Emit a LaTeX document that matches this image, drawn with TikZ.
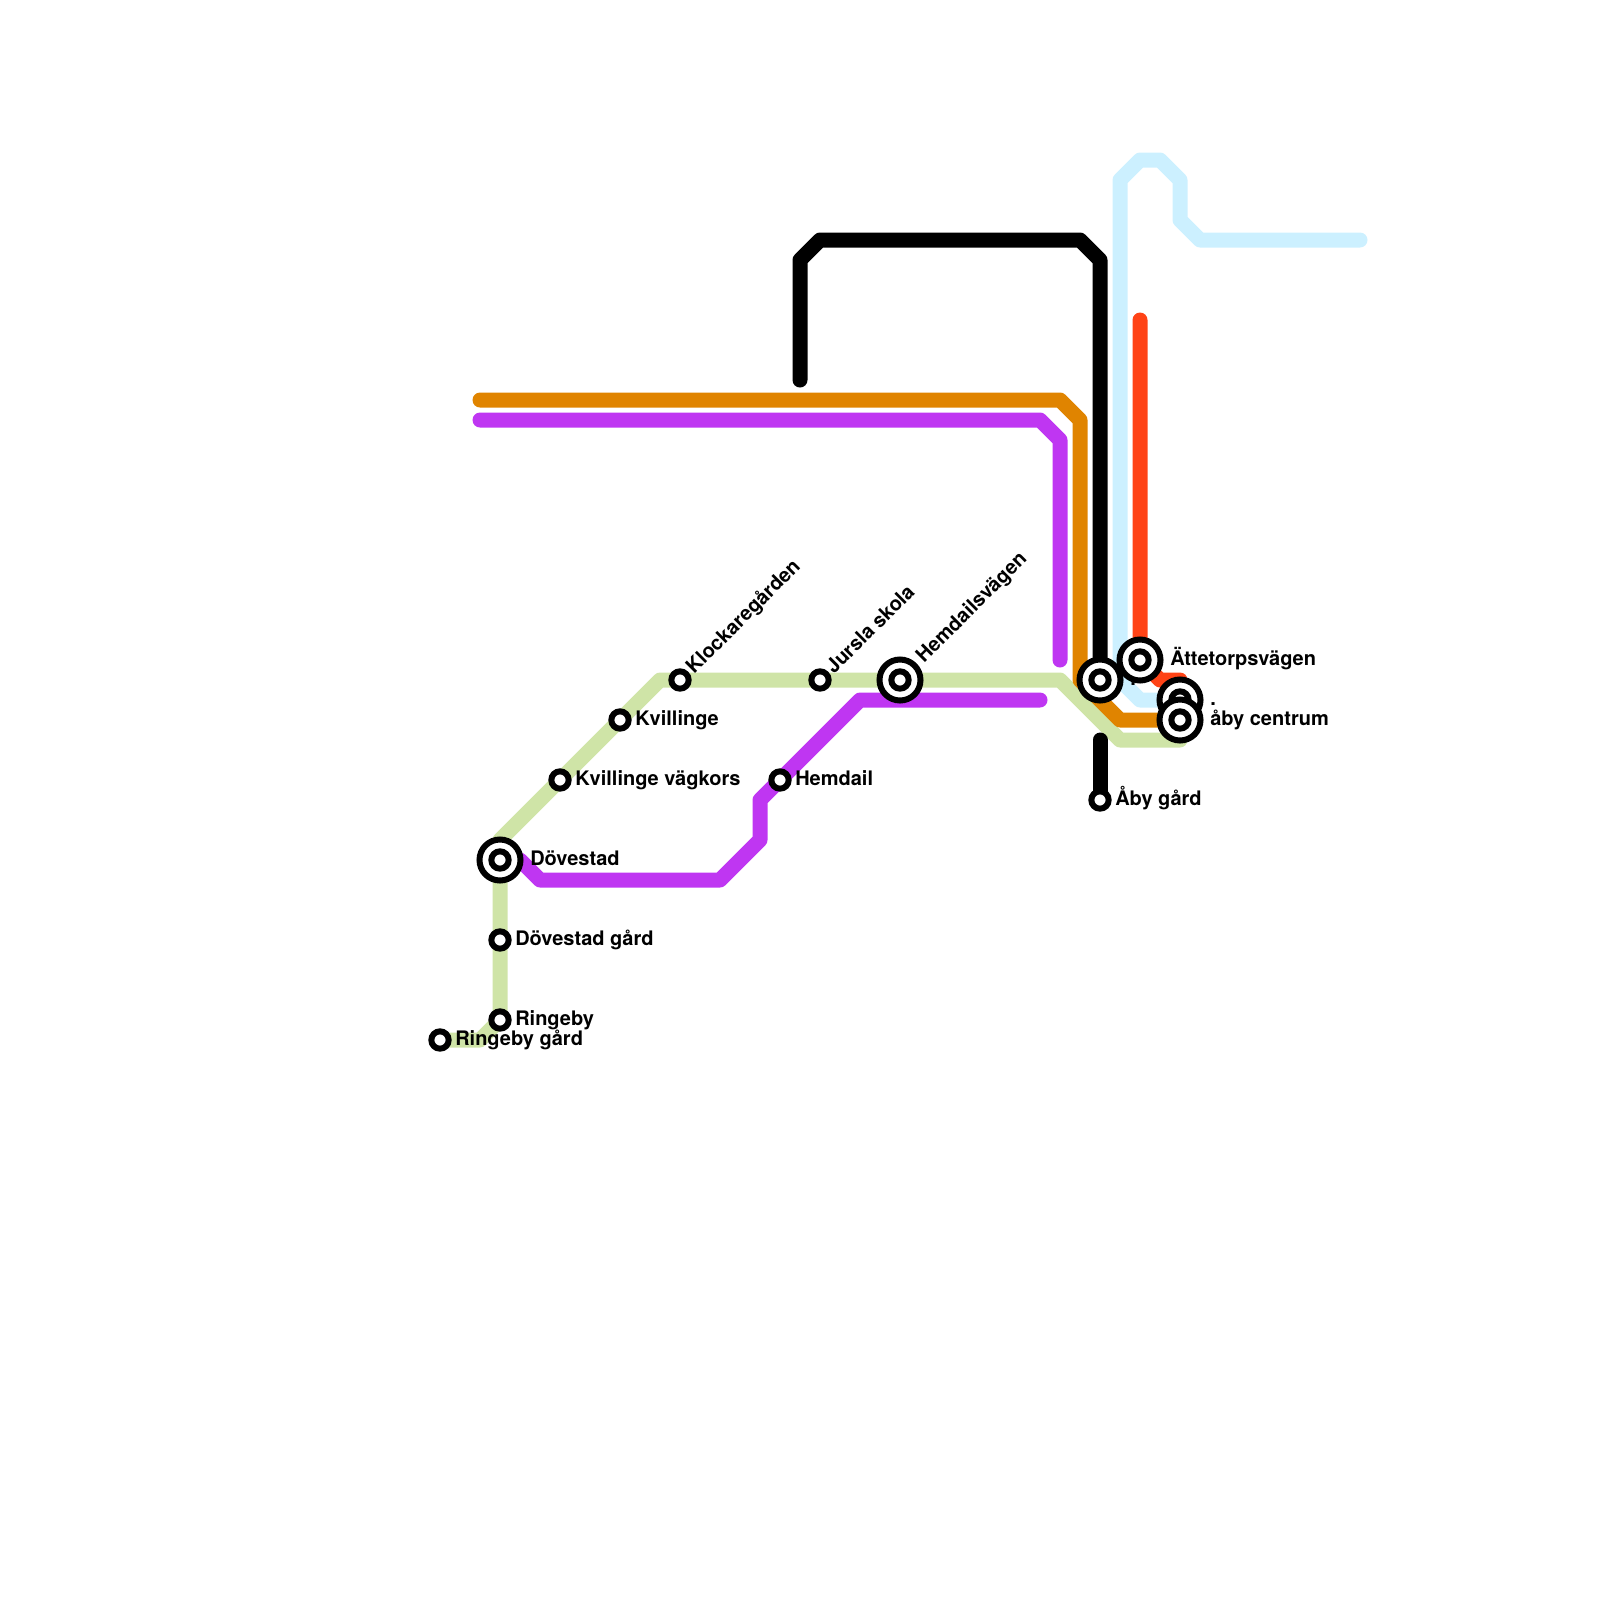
\documentclass[tikz,border=0pt]{standalone}
\usepackage{fontspec}
\setmainfont{TeX Gyre Heros}
\usetikzlibrary{backgrounds}
\definecolor{lineorange}{RGB}{224,132,0}
\definecolor{linepurple}{RGB}{191,54,242}
\definecolor{linegreen}{RGB}{207,228,167}
\definecolor{lineblue}{RGB}{204,240,255}
\definecolor{linered}{RGB}{255,67,22}
\tikzset{
  route/.style={line width=11.25pt,line cap=round,line join=round},
  stop/.style={circle,draw=black,fill=white,line width=4.5pt,minimum size=13pt,inner sep=0pt},
  hub/.style={circle,draw=black,fill=white,line width=4.5pt,minimum size=30.75pt,inner sep=0pt},
  lbl/.style={anchor=base west,inner sep=0pt,font=\bfseries\fontsize{15pt}{15pt}\selectfont},
}
\begin{document}
\begin{tikzpicture}[x=0.75pt,y=0.75pt,yscale=-1,xscale=1]
\useasboundingbox (0,0) rectangle (1600,1600);

% Stations
\node [stop] (ringebygard) at (440,1040) {};
\node [stop] (ringeby) at (500,1020) {};
\node [stop] (dovestadgard) at (500,940) {};
\node [hub] (dovestadring) at (500,860) {};
\node [stop] (dovestad) at (500,860) {};
\node [stop] (kvillingevag) at (560,780) {};
\node [stop] (kvillinge) at (620,720) {};
\node [stop] (klockare) at (680,680) {};
\node [stop] (jursla) at (820,680) {};
\node [hub] (hemdailsvring) at (900,680) {};
\node [stop] (hemdailsv) at (900,680) {};
\node [stop] (hemdail) at (780,780) {};
\node [hub] (junctionring) at (1100,680) {};
\node [stop] (junction) at (1100,680) {};
\node [lbl] (junctionlbl) at (1130,685) {.};
\node [hub] (attetorpring) at (1140,660) {};
\node [stop] (attetorp) at (1140,660) {};
\node [hub] (dotring) at (1180,700) {};
\node [stop] (dot) at (1180,700) {};
\node [hub] (abyring) at (1180,720) {};
\node [stop] (aby) at (1180,720) {};
\node [stop] (abygard) at (1100,800) {};

% Free line ends
\coordinate (orangestart) at (480,400);
\coordinate (purplestart) at (480,420);
\coordinate (purpleend) at (1060,660);
\coordinate (purplestubstart) at (520,860);
\coordinate (purplestubend) at (1040,700);
\coordinate (blackstart) at (800,380);
\coordinate (blackstubstart) at (1100,740);
\coordinate (bluestart) at (1360,240);
\coordinate (redstart) at (1140,320);

% Lines
\begin{scope}[on background layer]
\draw [route,color=lineblue] (bluestart) -- (1200,240) -- (1180,220) -- (1180,180) -- (1160,160) -- (1140,160) -- (1120,180) -- (1120,680) -- (1140,700) -- (dot.center);
\draw [route,color=linered] (redstart) -- (attetorp.center) -- (1160,680) -- (1180,680) -- (dot.center);
\draw [route,color=linegreen] (ringebygard.center) -- (480,1040) -- (ringeby.center) -- (500,840) -- (660,680) -- (1060,680) -- (1120,740) -- (1180,740) -- (aby.center);
\draw [route,color=lineorange] (orangestart) -- (1060,400) -- (1080,420) -- (1080,680) -- (1120,720) -- (aby.center);
\draw [route,color=linepurple] (purplestart) -- (1040,420) -- (1060,440) -- (purpleend);
\draw [route,color=linepurple] (purplestubstart) -- (540,880) -- (720,880) -- (760,840) -- (760,800) -- (860,700) -- (purplestubend);
\draw [route,color=black] (blackstart) -- (800,260) -- (820,240) -- (1080,240) -- (1100,260) -- (junction.center);
\draw [route,color=black] (blackstubstart) -- (abygard.center);
\end{scope}

% Text Node
\node [lbl] (ringebygardlbl) at (455,1045) {Ringeby gård};
\node [lbl] (ringebylbl) at (515,1025) {Ringeby};
\node [lbl] (dovestadgardlbl) at (515,945) {Dövestad gård};
\node [lbl] (dovestadlbl) at (530,865) {Dövestad};
\node [lbl] (kvillingevaglbl) at (575,785) {Kvillinge vägkors};
\node [lbl] (kvillingelbl) at (635,725) {Kvillinge};
\node [lbl,rotate=45] (klockarelbl) at (694,675) {Klockaregården};
\node [lbl,rotate=45] (jurslalbl) at (834,675) {Jursla skola};
\node [lbl,rotate=45] (hemdailsvlbl) at (924,664) {Hemdailsvägen};
\node [lbl] (hemdaillbl) at (795,785) {Hemdail};
\node [lbl] (attetorplbl) at (1170,665) {Ättetorpsvägen};
\node [lbl] (dotlbl) at (1210,705) {.};
\node [lbl] (abylbl) at (1210,725) {åby centrum};
\node [lbl] (abygardlbl) at (1115,805) {Åby gård};
\end{tikzpicture}
\end{document}
